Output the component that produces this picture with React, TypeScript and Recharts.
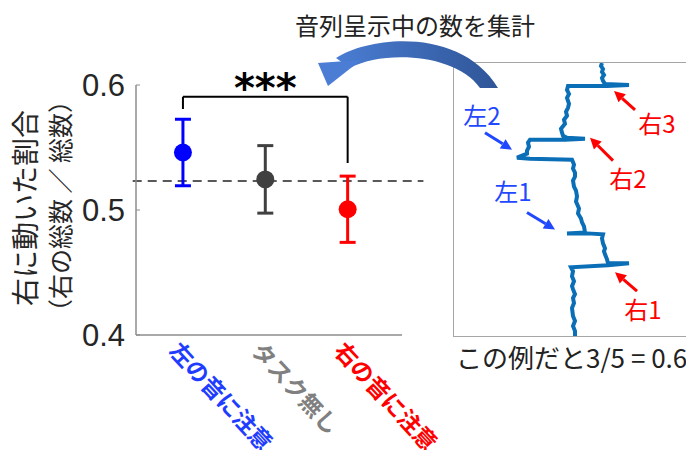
import React from "react";
import {
  ScatterChart,
  Scatter,
  XAxis,
  YAxis,
  ErrorBar,
  ReferenceLine,
  ReferenceDot,
} from "recharts";

// conditions
const categories = ["左の音に注意", "タスク無し", "右の音に注意"];
const means = [0.546, 0.5245, 0.5006];
const sems = [0.0266, 0.027, 0.0265];
const chanceLevel = 0.5232;
const yTicks = [0.4, 0.5, 0.6];
const yLabelLines = ["右に動いた割合", "（右の総数 ／ 総数）"];
const stars = "***";

// example trace (position vs. time, time runs downward)
const traceX = [
  148, 147, 149, 148, 150, 148, 149, 151, 175, 153, 114, 113, 115, 113, 115,
  114, 112, 113, 110, 111, 107, 108, 109, 113, 131, 111, 76, 74, 75, 73, 73,
  63, 76, 118, 120, 119, 121, 121, 119, 120, 122, 123, 122, 125, 124, 127, 128,
  130, 131, 113, 133, 149, 148, 149, 151, 150, 151, 153, 154, 175, 154, 117,
  119, 118, 120, 118, 119, 121, 119, 120, 118, 119, 121, 119, 121, 121,
];
const traceY = [
  0, 3, 6, 9, 12, 15, 18, 21, 22, 23, 23, 27, 31, 35, 41, 45, 49, 53, 57, 61,
  66, 70, 73, 75, 76, 77, 77, 80, 84, 88, 91, 95, 96, 97, 102, 106, 110, 114,
  118, 124, 128, 134, 139, 146, 151, 156, 160, 164, 170, 171, 171, 172, 176,
  181, 186, 189, 192, 197, 201, 201, 203, 205, 209, 214, 219, 224, 227, 232,
  236, 241, 246, 254, 259, 264, 269, 274,
];

// event annotations on the trace
const eventNames = ["左2", "左1", "右3", "右2", "右1"];
const eventSide = ["L", "L", "R", "R", "R"];
const eventTextAt = [
  [28, 54],
  [59, 130],
  [203, 62],
  [174, 117],
  [189, 248],
];
const eventArrowFrom = [
  [31, 70],
  [73, 150],
  [181, 47],
  [159, 98],
  [183, 229],
];
const eventArrowTo = [
  [58, 87],
  [101, 167],
  [160, 28],
  [136, 75],
  [161, 210],
];

const title = "音列呈示中の数を集計";
const caption = "この例だと3/5 = 0.6";

const labelColors = ["#1f3dff", "#808080", "#ff0000"];
const markColors = ["#0000ff", "#404040", "#ff0000"];
const jp = "'Noto Sans CJK JP', sans-serif";

const trace = traceX.map((x, i) => ({ x, y: traceY[i] }));

function CatTick(props: any) {
  const { x, y, payload } = props;
  const i = Math.round(payload.value) - 1;
  const ax = x - 15;
  const ay = y + 9;
  return (
    <text
      x={ax}
      y={ay}
      transform={`rotate(47 ${ax} ${ay})`}
      fill={labelColors[i]}
      fontSize={23}
      fontWeight="bold"
      fontFamily={jp}
    >
      {categories[i]}
    </text>
  );
}

function renderYLabel(props: any) {
  const vb = props.viewBox;
  const cy = vb.y + vb.height / 2;
  return (
    <g fill="#262626" fontFamily={jp}>
      <text
        x={24}
        y={cy - 2}
        transform={`rotate(-90 24 ${cy - 2})`}
        textAnchor="middle"
        dominantBaseline="central"
        fontSize={28}
      >
        {yLabelLines[0]}
      </text>
      <text
        x={59}
        y={cy - 4}
        transform={`rotate(-90 59 ${cy - 4})`}
        textAnchor="middle"
        dominantBaseline="central"
        fontSize={25}
      >
        {yLabelLines[1]}
      </text>
    </g>
  );
}

function renderStars(props: any) {
  const vb = props.viewBox;
  return (
    <text
      x={vb.x}
      y={vb.y + 5}
      textAnchor="middle"
      fontSize={40}
      fontWeight="bold"
      fontFamily="DejaVu Sans"
      fill="#000"
    >
      {stars}
    </text>
  );
}

const arrowShape = (color: string) => (p: any) => {
  const { x1, y1, x2, y2 } = p;
  const ang = Math.atan2(y2 - y1, x2 - x1);
  const len = 11;
  const half = 5.5;
  const bx = x2 - len * Math.cos(ang);
  const by = y2 - len * Math.sin(ang);
  const px = -Math.sin(ang) * half;
  const py = Math.cos(ang) * half;
  return (
    <g>
      <line x1={x1} y1={y1} x2={bx} y2={by} stroke={color} strokeWidth={3} />
      <polygon
        points={`${x2},${y2} ${bx + px},${by + py} ${bx - px},${by - py}`}
        fill={color}
      />
    </g>
  );
};

export default function App() {
  return (
    <div
      style={{
        position: "absolute",
        left: 0,
        top: 0,
        width: 686,
        height: 450,
        overflow: "hidden",
        background: "#fff",
      }}
    >
      <div style={{ position: "absolute", left: 0, top: 0 }}>
        <ScatterChart
          width={450}
          height={450}
          margin={{ top: 85, right: 48, bottom: 15, left: 56 }}
        >
          <XAxis
            type="number"
            dataKey="x"
            domain={[0.43, 3.66]}
            ticks={[1, 2, 3]}
            interval={0}
            tick={<CatTick />}
            tickLine={false}
            axisLine={{ stroke: "#8c8c8c", strokeWidth: 1.5 }}
            height={100}
            allowDataOverflow
          />
          <YAxis
            type="number"
            dataKey="y"
            domain={[0.4, 0.6]}
            ticks={yTicks}
            tickFormatter={(v: number) => v.toFixed(1)}
            width={80}
            tickSize={-4}
            tickMargin={15}
            tick={{ fontSize: 31, fill: "#262626", fontFamily: "Liberation Sans" }}
            axisLine={{ stroke: "#8c8c8c", strokeWidth: 1.5 }}
            tickLine={{ stroke: "#8c8c8c" }}
            label={renderYLabel}
            allowDataOverflow
          />

          <ReferenceLine
            segment={[
              { x: 0.39, y: chanceLevel },
              { x: 3.92, y: chanceLevel },
            ]}
            stroke="#595959"
            strokeWidth={2}
            strokeDasharray="9 6"
            ifOverflow="visible"
          />

          {/* significance bracket */}
          <ReferenceLine
            segment={[
              { x: 1, y: 0.5906 },
              { x: 3, y: 0.5906 },
            ]}
            stroke="#000"
            strokeWidth={2}
            ifOverflow="visible"
          />
          <ReferenceLine
            segment={[
              { x: 1, y: 0.5906 },
              { x: 1, y: 0.5808 },
            ]}
            stroke="#000"
            strokeWidth={2}
            ifOverflow="visible"
          />
          <ReferenceLine
            segment={[
              { x: 3, y: 0.5906 },
              { x: 3, y: 0.5376 },
            ]}
            stroke="#000"
            strokeWidth={2}
            ifOverflow="visible"
          />
          <ReferenceDot
            x={2}
            y={0.5906}
            r={0}
            stroke="none"
            ifOverflow="visible"
            label={renderStars}
          />

          {categories.map((c, i) => (
            <Scatter
              key={c}
              name={c}
              data={[{ x: i + 1, y: means[i], err: sems[i] }]}
              fill={markColors[i]}
              isAnimationActive={false}
              shape={(p: any) => (
                <circle cx={p.cx} cy={p.cy} r={9} fill={markColors[i]} />
              )}
            >
              <ErrorBar
                dataKey="err"
                direction="y"
                width={8}
                strokeWidth={3}
                stroke={markColors[i]}
              />
            </Scatter>
          ))}
        </ScatterChart>
      </div>

      {/* example trace inset */}
      <div
        style={{
          position: "absolute",
          left: 453,
          top: 62,
          width: 240,
          height: 273,
          borderLeft: "1px solid #a6a6a6",
          borderTop: "1px solid #a6a6a6",
          borderBottom: "1px solid #a6a6a6",
          fontFamily: jp,
        }}
      >
        <ScatterChart
          width={240}
          height={273}
          margin={{ top: 0, right: 0, bottom: 0, left: 0 }}
        >
          <XAxis type="number" dataKey="x" domain={[0, 240]} hide />
          <YAxis type="number" dataKey="y" domain={[0, 273]} reversed hide />
          <Scatter
            data={trace}
            line={{ stroke: "#0b6fb8", strokeWidth: 4 }}
            lineJointType="linear"
            shape={() => <g />}
            isAnimationActive={false}
          />
          {eventNames.map((n, i) => {
            const color = eventSide[i] === "L" ? "#1f48ff" : "#ff0000";
            return (
              <ReferenceLine
                key={"a" + n}
                segment={[
                  { x: eventArrowFrom[i][0], y: eventArrowFrom[i][1] },
                  { x: eventArrowTo[i][0], y: eventArrowTo[i][1] },
                ]}
                shape={arrowShape(color)}
                ifOverflow="visible"
              />
            );
          })}
          {eventNames.map((n, i) => {
            const color = eventSide[i] === "L" ? "#1f48ff" : "#ff0000";
            return (
              <ReferenceDot
                key={"t" + n}
                x={eventTextAt[i][0]}
                y={eventTextAt[i][1]}
                r={0}
                stroke="none"
                ifOverflow="visible"
                label={{
                  value: n,
                  position: "center",
                  fill: color,
                  fontSize: 24,
                }}
              />
            );
          })}
        </ScatterChart>
      </div>

      {/* title, caption and the curved arrow */}
      <svg
        width={686}
        height={450}
        style={{ position: "absolute", left: 0, top: 0, pointerEvents: "none" }}
      >
        <defs>
          <linearGradient id="curveFill" x1="0" y1="0" x2="1" y2="0">
            <stop offset="0" stopColor="#4a7dd3" />
            <stop offset="1" stopColor="#2f5597" />
          </linearGradient>
        </defs>
        <text
          x={415}
          y={35}
          textAnchor="middle"
          fontSize={24}
          fontFamily={jp}
          fill="#222"
        >
          {title}
        </text>
        <path
          d="M 336 58 C 372 35, 462 28, 498 88 L 480 88 C 456 53, 382 50, 350 68 Z"
          fill="url(#curveFill)"
        />
        <polygon points="318,63 328,86 361,60" fill="#4a7dd3" />
        <text x={456} y={368} fontSize={26} fontFamily={jp} fill="#222">
          {caption}
        </text>
      </svg>
    </div>
  );
}
